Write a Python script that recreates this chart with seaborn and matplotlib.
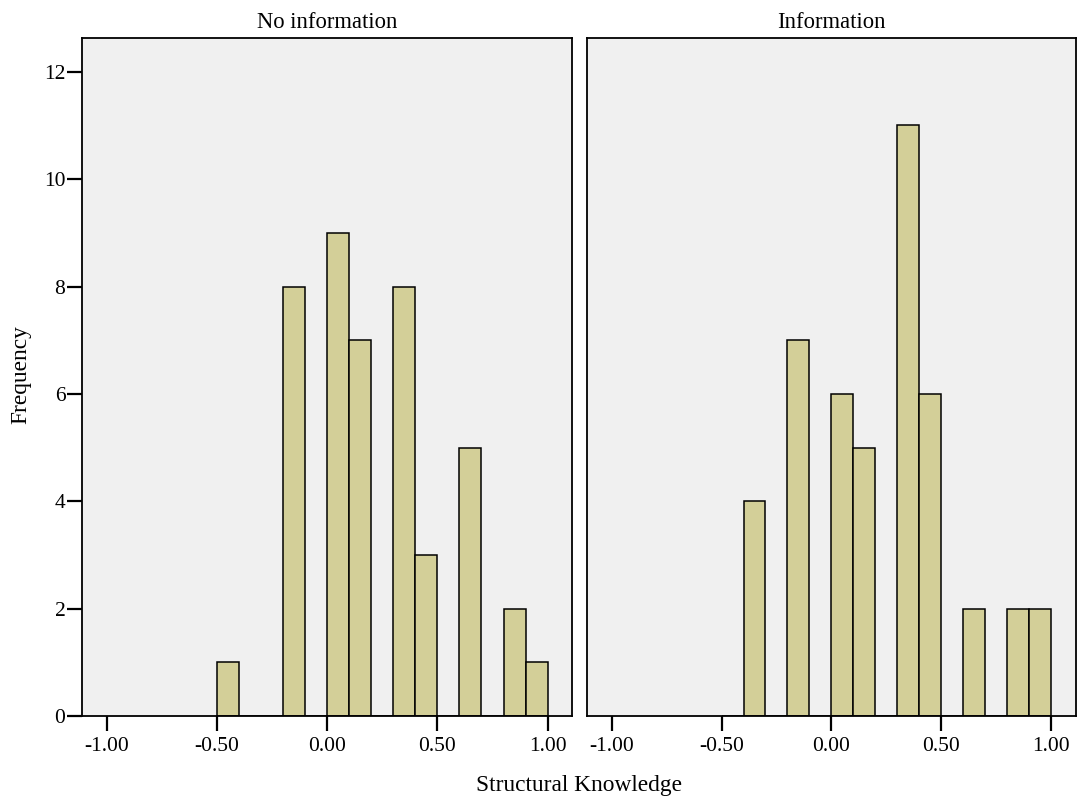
import numpy as np
import pandas as pd
import matplotlib
matplotlib.use("Agg")
import matplotlib.pyplot as plt
import seaborn as sns

# Data (bin left edges, bin width 0.1)
no_info_bin_left = [-0.5, -0.2, 0.0, 0.1, 0.3, 0.4, 0.6, 0.8, 0.9]
no_info_counts = [1, 8, 9, 7, 8, 3, 5, 2, 1]
info_bin_left = [-0.4, -0.2, 0.0, 0.1, 0.3, 0.4, 0.6, 0.8, 0.9]
info_counts = [4, 7, 6, 5, 11, 6, 2, 2, 2]
panel_titles = ["No information", "Information"]
x_ticks = [-1.0, -0.5, 0.0, 0.5, 1.0]
x_tick_labels = ["-1.00", "-0.50", "0.00", "0.50", "1.00"]
y_ticks = [0, 2, 4, 6, 8, 10, 12]

BIN_W = 0.1
sns.set_style("white")
plt.rcParams['font.family'] = ['Liberation Serif', 'DejaVu Serif']
plt.rcParams['text.color'] = 'black'
plt.rcParams['axes.labelcolor'] = 'black'
plt.rcParams['xtick.color'] = 'black'
plt.rcParams['ytick.color'] = 'black'

fig = plt.figure(figsize=(10.77, 7.98), dpi=100)
ax1 = fig.add_axes([0.0761, 0.1028, 0.4553, 0.8496])
ax2 = fig.add_axes([0.5450, 0.1028, 0.4540, 0.8496])

fill = "#D3CF98"
bg = "#F0F0F0"
fs = 15.5

for ax, lefts, counts, title in [(ax1, no_info_bin_left, no_info_counts, panel_titles[0]),
                                 (ax2, info_bin_left, info_counts, panel_titles[1])]:
    df = pd.DataFrame({"x": np.array(lefts) + BIN_W / 2, "w": counts})
    sns.histplot(data=df, x="x", weights="w", binwidth=BIN_W, binrange=(-0.5, 1.0),
                 color=fill, alpha=1, edgecolor="black", linewidth=1.1, ax=ax)
    ax.set_facecolor(bg)
    ax.set_xlim(-1.112, 1.112)
    ax.set_ylim(0, 12.63)
    ax.set_xticks(x_ticks)
    ax.set_xticklabels(x_tick_labels, fontsize=fs, color="black")
    ax.set_xlabel("")
    ax.set_ylabel("")
    ax.set_title(title, fontsize=16.3, pad=7, color="black")
    for s in ax.spines.values():
        s.set_visible(True)
        s.set_color("black")
        s.set_linewidth(1.3)
    ax.tick_params(axis="x", bottom=True, length=11, width=1.6, direction="out",
                   color="black", pad=4)

ax1.set_yticks(y_ticks)
ax1.set_yticklabels([str(v) for v in y_ticks], fontsize=fs, color="black")
ax1.tick_params(axis="y", left=True, length=11, width=1.6, direction="out", color="black", pad=1)
ax2.set_yticks([])

fig.text(0.019, 0.531, "Frequency", ha="center", va="center", rotation=90,
         fontsize=16.8, color="black")
fig.text(0.538, 0.016, "Structural Knowledge", ha="center", va="center",
         fontsize=16.8, color="black")

fig.savefig("out.png", dpi=100, facecolor="white")
